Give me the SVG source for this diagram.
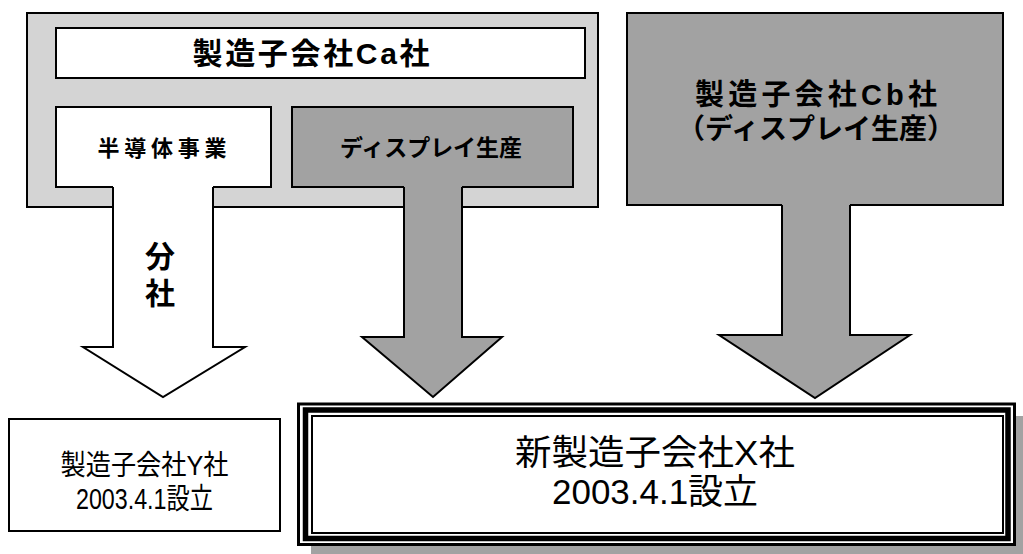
<svg xmlns="http://www.w3.org/2000/svg" width="1023" height="554" viewBox="0 0 1023 554">
<style>
.t{font-family:"Liberation Sans","Noto Sans CJK JP",sans-serif;fill:#000;text-anchor:middle}
.b{font-weight:bold}
.ln{stroke:#000;stroke-width:2;stroke-linejoin:miter}
.light{fill:#d4d4d4}
.dark{fill:#a2a2a2}
.white{fill:#fff}
</style>
<rect width="1023" height="554" fill="#fff"/>
<g id="node-ca">
<rect class="light ln" x="27" y="13" width="571" height="194"/>
<rect class="white ln" x="56" y="28" width="529" height="50"/>
<text class="t b" x="311" y="64" font-size="30" textLength="237">製造子会社Ca社</text>
</g>
<g id="node-semiconductor">
<rect class="white ln" x="56" y="107" width="215" height="80"/>
<text class="t b" x="162" y="156" font-size="22" textLength="129">半導体事業</text>
</g>
<g id="node-display">
<rect class="dark ln" x="292" y="107" width="281" height="80"/>
<text class="t b" x="431" y="156" font-size="23" textLength="182">ディスプレイ生産</text>
</g>
<g id="node-cb">
<rect class="dark ln" x="627" y="13" width="376" height="192"/>
<text class="t b" x="816" y="105" font-size="29" textLength="242">製造子会社Cb社</text>
<text class="t b" x="816" y="139" font-size="28">（ディスプレイ生産）</text>
</g>
<g id="node-y">
<rect class="white ln" x="9" y="419" width="271" height="112"/>
<text class="t" x="144.5" y="475" font-size="28" textLength="168" lengthAdjust="spacingAndGlyphs">製造子会社Y社</text>
<text class="t" x="144.5" y="509" font-size="29" textLength="137" lengthAdjust="spacingAndGlyphs">2003.4.1設立</text>
</g>
<g id="node-x">
<rect class="dark" x="311" y="416" width="712" height="138"/>
<rect class="white" x="297" y="403" width="719" height="143"/>
<rect x="298.5" y="404" width="716" height="140.5" fill="none" stroke="#000" stroke-width="3"/>
<rect x="305.5" y="410" width="702.5" height="128.5" fill="none" stroke="#000" stroke-width="5.5"/>
<rect x="312" y="416" width="691" height="117" fill="none" stroke="#000" stroke-width="2"/>
<text class="t" x="655" y="465" font-size="35" textLength="280" lengthAdjust="spacingAndGlyphs">新製造子会社X社</text>
<text class="t" x="655" y="504" font-size="35" textLength="206" lengthAdjust="spacingAndGlyphs">2003.4.1設立</text>
</g>
<g id="connectors">
<g id="arrow-split">
<polygon class="white" points="113,185.5 213,185.5 213,347 245,347 163,397 83,347 113,347"/>
<polyline class="ln" fill="none" points="113,187 113,347 83,347 163,397 245,347 213,347 213,187"/>
<text class="t b" x="160" y="267" font-size="30">分</text>
<text class="t b" x="160" y="304" font-size="30">社</text>
</g>
<g id="arrow-display">
<polygon class="dark" points="404,185.5 462,185.5 462,337 502,337 433,397 362,337 404,337"/>
<polyline class="ln" fill="none" points="404,187 404,337 362,337 433,397 502,337 462,337 462,187"/>
</g>
<g id="arrow-cb">
<polygon class="dark" points="782,203.5 850,203.5 850,335 910,335 815,398 719,335 782,335"/>
<polyline class="ln" fill="none" points="782,205 782,335 719,335 815,398 910,335 850,335 850,205"/>
</g>
</g>
</svg>
